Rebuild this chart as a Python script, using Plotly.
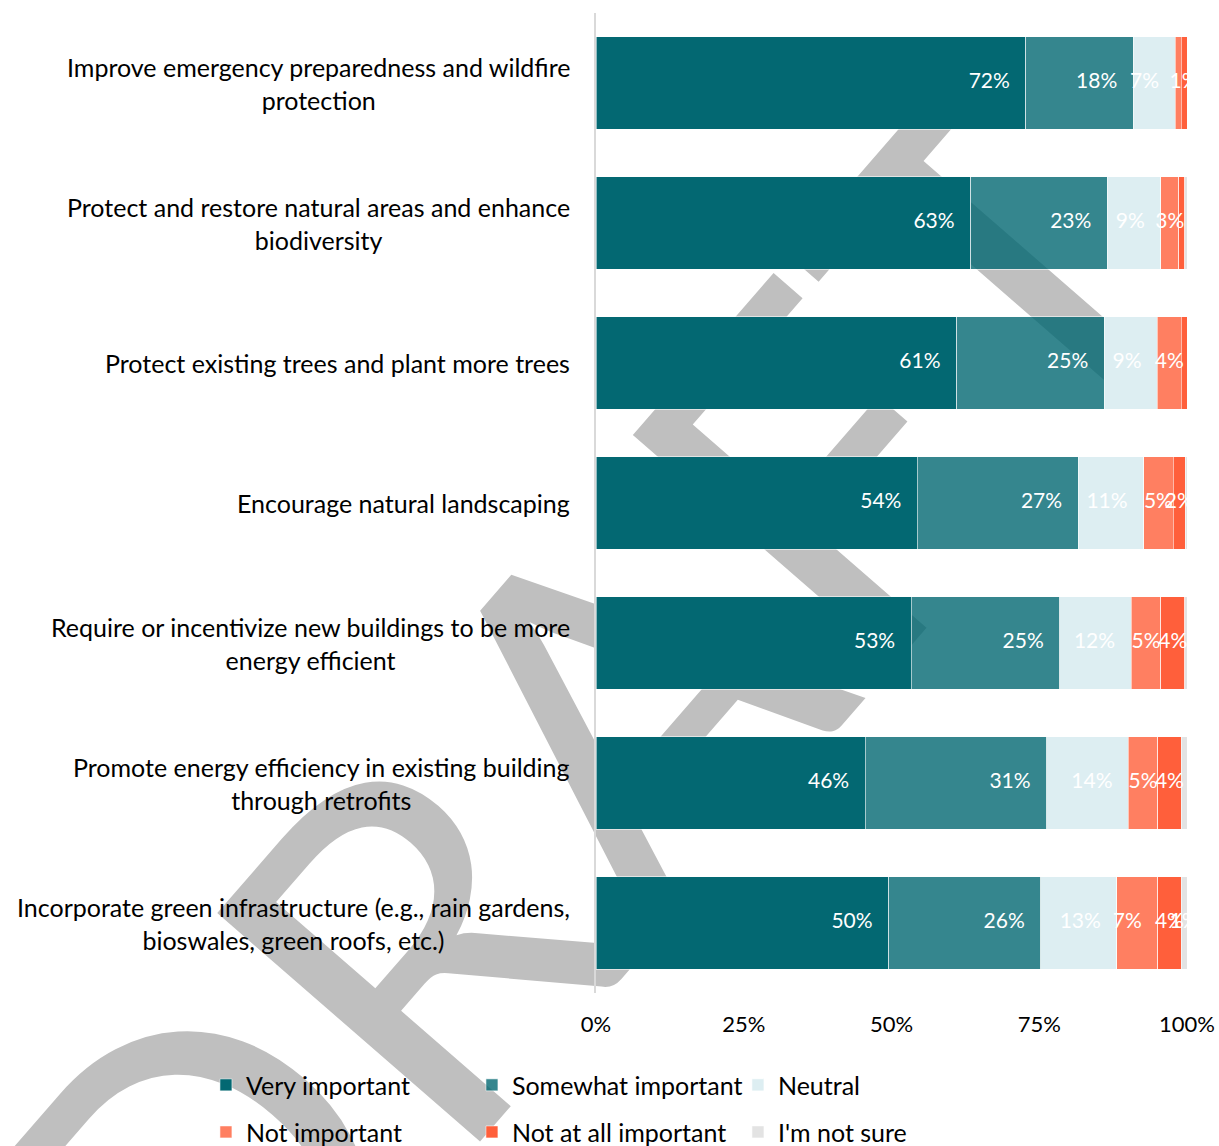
import plotly.graph_objects as go

# Survey question rows, top to bottom
categories = [
    "Improve emergency preparedness and wildfire<br>protection",
    "Protect and restore natural areas and enhance<br>biodiversity",
    "Protect existing trees and plant more trees",
    "Encourage natural landscaping",
    "Require or incentivize new buildings to be more<br>energy efficient",
    "Promote energy efficiency in existing building<br>through retrofits",
    "Incorporate green infrastructure (e.g., rain gardens,<br>bioswales, green roofs, etc.)",
]

# Share of responses (%) per answer
very_important = [72, 63, 61, 54, 53, 46, 50]
somewhat_important = [18, 23, 25, 27, 25, 31, 26]
neutral = [7, 9, 9, 11, 12, 14, 13]
not_important = [1, 3, 4, 5, 5, 5, 7]
not_at_all_important = [1, 1, 1, 2, 4, 4, 4]
not_sure = [0, 0.4, 0, 0.3, 0.4, 1, 1]

# Which segments carry a value label
show_very = [True] * 7
show_somewhat = [True] * 7
show_neutral = [True] * 7
show_not_important = [False, True, True, True, True, True, True]
show_not_at_all = [True, False, False, True, True, True, True]
show_not_sure = [False, False, False, False, False, False, True]

series_names = ["Very important", "Somewhat important", "Neutral",
                "Not important", "Not at all important", "I'm not sure"]
series_values = [very_important, somewhat_important, neutral,
                 not_important, not_at_all_important, not_sure]
series_show = [show_very, show_somewhat, show_neutral,
               show_not_important, show_not_at_all, show_not_sure]
series_colors = ["#036872", "rgba(3,104,114,0.8)", "#ddeef2",
                 "#ff7f61", "#ff5f3b", "#e3e3e3"]
legend_ids = ["legend", "legend", "legend", "legend2", "legend2", "legend2"]

tick_values = [0, 25, 50, 75, 100]
tick_labels = ["0%", "25%", "50%", "75%", "100%"]

FONT = "Lato"
LABEL_PAD = 2.7          # gap between a label and its segment end, in axis units
MIN_INSIDE = 6.5         # narrower segments get a centred label

fig = go.Figure()

# Stacked bars (normalised to 100% per row)
for name, vals, color, lg in zip(series_names, series_values, series_colors, legend_ids):
    fig.add_trace(go.Bar(
        y=categories, x=vals, name=name, orientation="h",
        marker=dict(color=color, line=dict(color="rgba(255,255,255,0.7)", width=0.8)),
        legend=lg, hoverinfo="skip",
    ))

# Value labels placed from the normalised cumulative sums
totals = [sum(v[r] for v in series_values) for r in range(len(categories))]
cum = [0.0] * len(categories)
for vals, show in zip(series_values, series_show):
    xs, ys, texts, poss = [], [], [], []
    for r, v in enumerate(vals):
        share = v / totals[r] * 100
        start, end = cum[r], cum[r] + share
        cum[r] = end
        if not show[r]:
            continue
        if share >= MIN_INSIDE:
            xs.append(end - LABEL_PAD)
            poss.append("middle left")
        else:
            xs.append((start + end) / 2)
            poss.append("middle center")
        ys.append(categories[r])
        texts.append(f"{v:g}%")
    fig.add_trace(go.Scatter(
        x=xs, y=ys, text=texts, mode="text", textposition=poss,
        textfont=dict(family=FONT, size=21, color="white"),
        cliponaxis=True, showlegend=False, hoverinfo="skip",
    ))

# Category labels, centred lines, right-aligned block
for cat in categories:
    fig.add_annotation(
        x=0, xref="paper", y=cat, yref="y", text=cat, showarrow=False,
        xanchor="right", xshift=-24, align="center",
        font=dict(family=FONT, size=25, color="black"),
    )

# DRAFT watermark behind the chart
wx, wy = -0.035, 0.262
fig.add_shape(
    type="rect", xref="paper", yref="paper",
    x0=wx - 0.01, x1=wx + 0.01, y0=wy - 0.01, y1=wy + 0.01,
    line=dict(width=0), fillcolor="rgba(0,0,0,0)", layer="below",
    label=dict(text="DRAFT", textangle=-49, textposition="middle center",
               font=dict(family=FONT, size=486, color="#bfbfbf")),
)

legend_common = dict(
    orientation="h", entrywidth=221, entrywidthmode="pixels",
    xanchor="left", yanchor="middle", bgcolor="rgba(0,0,0,0)",
    font=dict(family=FONT, size=25, color="black"), traceorder="normal",
)

fig.update_layout(
    width=1219, height=1146,
    margin=dict(l=596, r=32, t=13, b=153, autoexpand=False),
    barmode="stack", barnorm="percent", bargap=0.336,
    paper_bgcolor="white", plot_bgcolor="rgba(0,0,0,0)",
    showlegend=True,
    legend=dict(x=-0.66, y=-0.094, **legend_common),
    legend2=dict(x=-0.66, y=-0.142, **legend_common),
    xaxis=dict(range=[0, 100], tickvals=tick_values, ticktext=tick_labels,
               showgrid=False, zeroline=False, showline=False,
               ticks="", ticklabelstandoff=16,
               tickfont=dict(family=FONT, size=22, color="black")),
    yaxis=dict(categoryorder="array", categoryarray=categories,
               autorange="reversed", showticklabels=False,
               showgrid=False, zeroline=False,
               showline=True, linecolor="#d9d9d9", linewidth=2),
)

fig.write_html("out.html")
